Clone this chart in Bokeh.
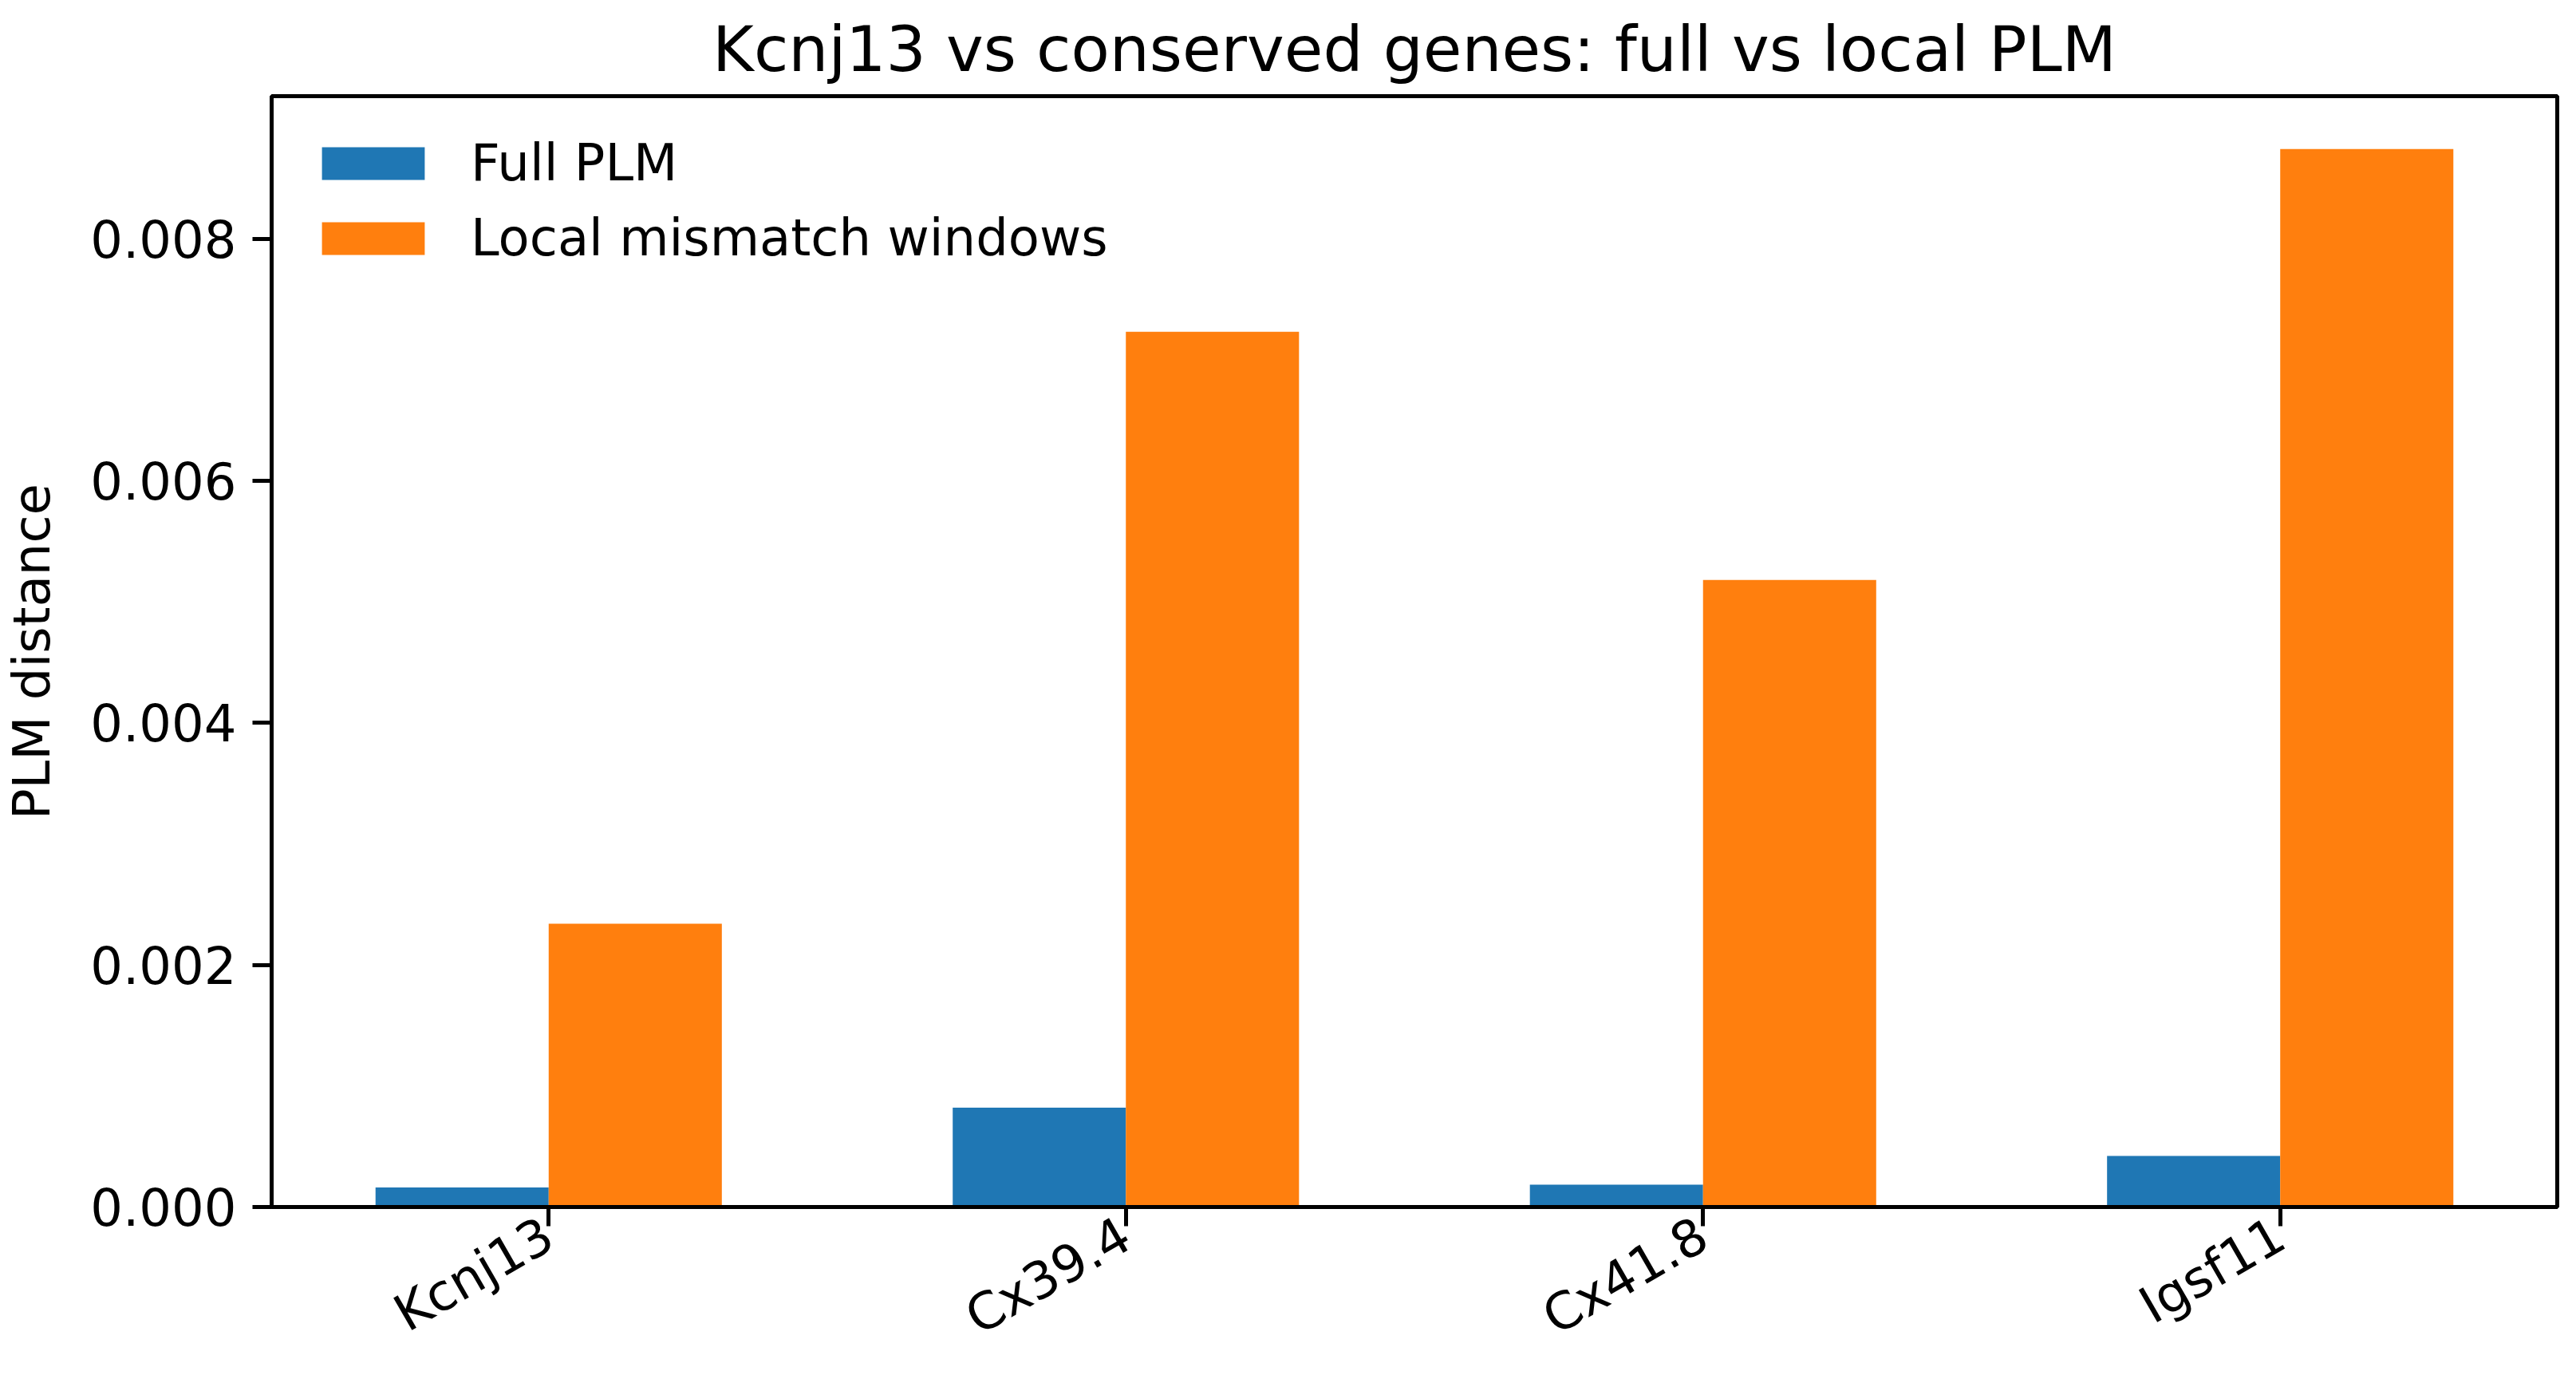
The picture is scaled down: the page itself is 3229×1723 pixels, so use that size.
import math
from bokeh.plotting import figure
from bokeh.models import Range1d, FixedTicker, NumeralTickFormatter, Legend, LegendItem, ColumnDataSource
from bokeh.transform import dodge
from bokeh.embed import file_html
from bokeh.resources import INLINE

genes = ["Kcnj13", "Cx39.4", "Cx41.8", "Igsf11"]
full_plm = [0.000162, 0.000821, 0.000184, 0.000422]
local_windows = [0.00234, 0.00723, 0.00518, 0.00874]
series_names = ["Full PLM", "Local mismatch windows"]
y_ticks = [0.0, 0.002, 0.004, 0.006, 0.008]

FONT = "DejaVu Sans"
BLUE = "#1f77b4"
ORANGE = "#ff7f0e"
BW = 0.3

idx = list(range(len(genes)))
src = ColumnDataSource(dict(x=idx, full=full_plm, local=local_windows))

ymax = max(local_windows + full_plm) * 1.05

p = figure(width=3229, height=1723, output_backend="svg", toolbar_location=None,
           x_range=Range1d(-0.48, len(genes) - 1 + 0.48), y_range=Range1d(0, ymax),
           min_border_left=339, min_border_right=24, min_border_top=118, min_border_bottom=211)

r1 = p.vbar(x=dodge("x", -BW / 2), top="full", width=BW, bottom=0, source=src,
            fill_color=BLUE, line_color=None)
r2 = p.vbar(x=dodge("x", BW / 2), top="local", width=BW, bottom=0, source=src,
            fill_color=ORANGE, line_color=None)

p.title.text = "Kcnj13 vs conserved genes: full vs local PLM"
p.title.text_font = FONT
p.title.text_font_size = "79px"
p.title.text_font_style = "normal"
p.title.align = "center"
p.title.text_color = "black"
p.title.standoff = 26

p.xgrid.visible = False
p.ygrid.visible = False
p.outline_line_color = "black"
p.outline_line_width = 5
p.outline_line_alpha = 1

for ax in (p.xaxis[0], p.yaxis[0]):
    ax.axis_line_width = 5
    ax.axis_line_color = "black"
    ax.major_tick_line_width = 5
    ax.major_tick_line_color = "black"
    ax.major_tick_out = 24
    ax.major_tick_in = 0
    ax.minor_tick_line_color = None
    ax.major_label_text_font = FONT
    ax.major_label_text_font_size = "64px"
    ax.major_label_text_color = "black"

p.xaxis.ticker = FixedTicker(ticks=idx)
p.xaxis.major_label_overrides = {i: g for i, g in enumerate(genes)}
p.xaxis.major_label_orientation = math.pi / 6
p.xaxis.major_label_standoff = 6

p.yaxis.ticker = FixedTicker(ticks=y_ticks)
p.yaxis.formatter = NumeralTickFormatter(format="0.000")
p.yaxis.major_label_standoff = 20
p.yaxis.axis_label = "PLM distance"
p.yaxis.axis_label_text_font = FONT
p.yaxis.axis_label_text_font_size = "64px"
p.yaxis.axis_label_text_font_style = "normal"
p.yaxis.axis_label_text_color = "black"
p.yaxis.axis_label_standoff = 33

legend = Legend(items=[LegendItem(label=series_names[0], renderers=[r1]),
                       LegendItem(label=series_names[1], renderers=[r2])],
                location="top_left")
legend.label_text_font = FONT
legend.label_text_font_size = "64px"
legend.label_text_color = "black"
legend.glyph_width = 161
legend.glyph_height = 51
legend.label_height = 51
legend.label_standoff = 42
legend.spacing = 20
legend.padding = 47
legend.margin = 0
legend.border_line_alpha = 0
legend.background_fill_alpha = 0
p.add_layout(legend)

open("out.html", "w").write(file_html(p, INLINE))
